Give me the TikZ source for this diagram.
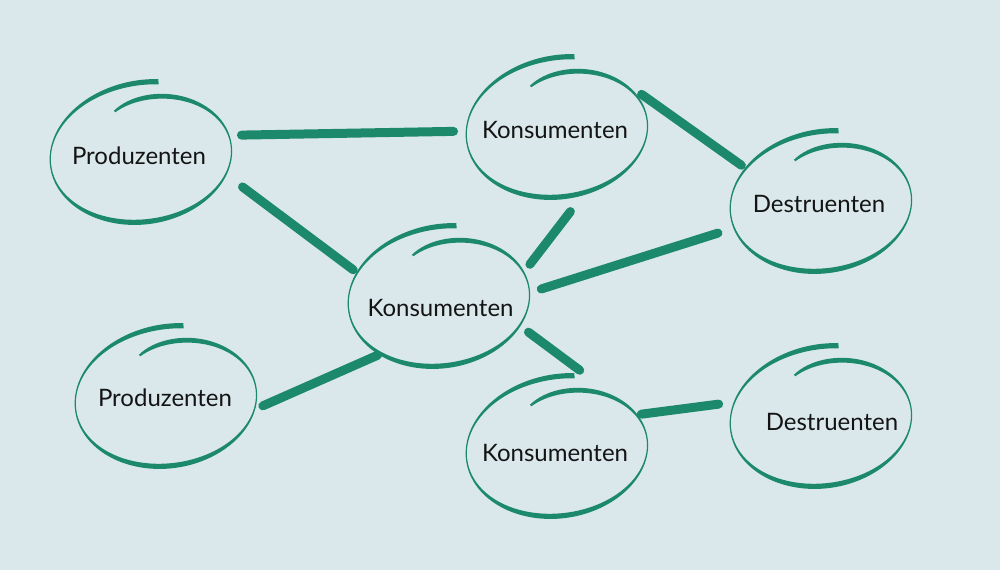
\documentclass[tikz,border=0pt]{standalone}
\usepackage{fontspec}
\setmainfont{Lato}
\usetikzlibrary{shapes.geometric}
\definecolor{bgc}{RGB}{218,232,236}
\definecolor{grn}{RGB}{28,138,106}
\definecolor{ink}{RGB}{20,20,20}
\newcommand{\gloop}[2]{%
  \begin{scope}[shift={(#1,#2)},xslant=0.08,rotate=3]
    \fill[grn] plot[smooth,domain=0:1,samples=120,variable=\t]
      ({(94*rr(\t)+ww(\t)/2)*cos(th(\t))},{-(70*rr(\t)+ww(\t)/2)*sin(th(\t))})
      -- plot[smooth,domain=1:0,samples=120,variable=\t]
      ({(94*rr(\t)-ww(\t)/2)*cos(th(\t))},{-(70*rr(\t)-ww(\t)/2)*sin(th(\t))})
      -- cycle;
  \end{scope}}
\begin{document}
\begin{tikzpicture}[x=1pt,y=-1pt,
  declare function={
    rr(\t)=0.86+0.21*\t-0.03*\t*\t*\t-0.14*exp(-12*\t);
    th(\t)=118-395*\t;
    ww(\t)=(1.2+4.0*sin(th(\t))*sin(th(\t)))*(1-0.5*exp(-25*\t));
  },
  hub/.style={ellipse,minimum width=190pt,minimum height=132pt,inner sep=0pt,outer sep=0pt},
  lbl/.style={font=\fontsize{24}{28}\selectfont,text=ink,inner sep=0pt,anchor=base},
  link/.style={draw=grn,line width=9pt,line cap=round}]
\fill[bgc] (0,0) rectangle (1000,570);
\useasboundingbox (0,0) rectangle (1000,570);
% hubs (invisible ellipses at loop centres)
\node[hub] (p1) at (145,154.5) {};
\node[hub] (k1) at (561,129.5) {};
\node[hub] (d1) at (825,203.5) {};
\node[hub] (k0) at (443,298.5) {};
\node[hub] (p2) at (170,398.5) {};
\node[hub] (k2) at (561,448.5) {};
\node[hub] (d2) at (825,418.5) {};
% hand-drawn loops
\gloop{145}{154.5}
\gloop{561}{129.5}
\gloop{825}{203.5}
\gloop{443}{298.5}
\gloop{170}{398.5}
\gloop{561}{448.5}
\gloop{825}{418.5}
% labels
\node[lbl] (p1t) at (139,164) {Produzenten};
\node[lbl] (k1t) at (555,138.3) {Konsumenten};
\node[lbl] (d1t) at (819,212.3) {Destruenten};
\node[lbl] (k0t) at (440.5,316.7) {Konsumenten};
\node[lbl] (p2t) at (165,406.7) {Produzenten};
\node[lbl] (k2t) at (555,461.7) {Konsumenten};
\node[lbl] (d2t) at (832,430) {Destruenten};
% connectors
\draw[link,shorten <=5.6pt,shorten >=12.5pt] (p1.12) -- (k1.181);
\draw[link,shorten <=12.1pt,shorten >=3.6pt] (p1.-16) -- (k0.163);
\draw[link,shorten <=0.7pt,shorten >=4.5pt] (k1.24) -- (d1.156);
\draw[link,shorten <=4.5pt,shorten >=22.8pt] (k0.20.6) -- (k1.-70);
\draw[link,shorten <=4.2pt,shorten >=19.3pt] (k0.5) -- (d1.195);
\draw[link,shorten <=-1.8pt,shorten >=9.5pt] (p2.-4) -- (k0.223);
\draw[link,shorten <=2.9pt,shorten >=34.7pt] (k0.-21.5) -- (k2.51.2);
\draw[link,shorten <=-0.8pt,shorten >=14.4pt] (k2.23) -- (d2.170);
\end{tikzpicture}
\end{document}
